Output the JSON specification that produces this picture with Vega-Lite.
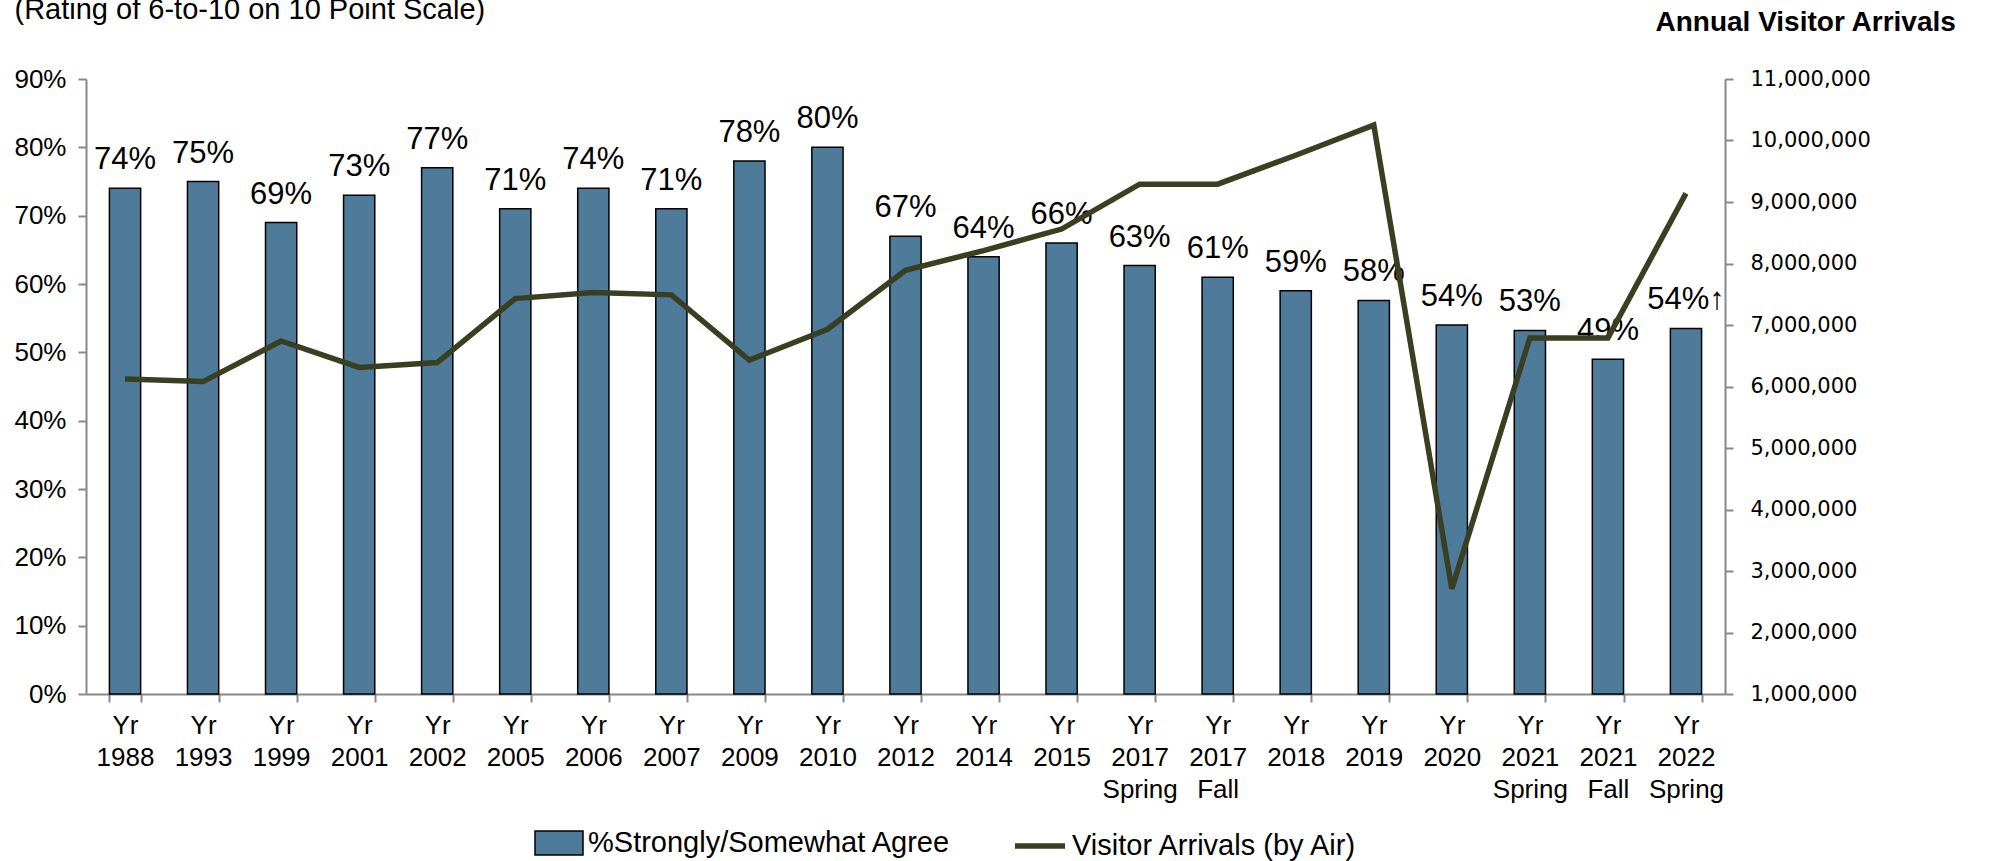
{
  "$schema": "https://vega.github.io/schema/vega-lite/v6.json",
  "width": 1639,
  "height": 615,
  "autosize": "none",
  "padding": {"left": 86, "top": 79, "right": 268, "bottom": 167},
  "background": "white",
  "config": {"view": {"stroke": null}, "font": "Liberation Sans"},
  "data": {
    "values": [
      {"cat": "Yr|1988", "pct": 0.74, "label": "74%", "arrivals": 6120000},
      {"cat": "Yr|1993", "pct": 0.75, "label": "75%", "arrivals": 6080000},
      {"cat": "Yr|1999", "pct": 0.69, "label": "69%", "arrivals": 6740000},
      {"cat": "Yr|2001", "pct": 0.73, "label": "73%", "arrivals": 6310000},
      {"cat": "Yr|2002", "pct": 0.77, "label": "77%", "arrivals": 6390000},
      {"cat": "Yr|2005", "pct": 0.71, "label": "71%", "arrivals": 7430000},
      {"cat": "Yr|2006", "pct": 0.74, "label": "74%", "arrivals": 7530000},
      {"cat": "Yr|2007", "pct": 0.71, "label": "71%", "arrivals": 7490000},
      {"cat": "Yr|2009", "pct": 0.78, "label": "78%", "arrivals": 6430000},
      {"cat": "Yr|2010", "pct": 0.80, "label": "80%", "arrivals": 6930000},
      {"cat": "Yr|2012", "pct": 0.67, "label": "67%", "arrivals": 7890000},
      {"cat": "Yr|2014", "pct": 0.64, "label": "64%", "arrivals": 8210000},
      {"cat": "Yr|2015", "pct": 0.66, "label": "66%", "arrivals": 8560000},
      {"cat": "Yr|2017|Spring", "pct": 0.627, "label": "63%", "arrivals": 9290000},
      {"cat": "Yr|2017|Fall", "pct": 0.61, "label": "61%", "arrivals": 9290000},
      {"cat": "Yr|2018", "pct": 0.59, "label": "59%", "arrivals": 9760000},
      {"cat": "Yr|2019", "pct": 0.576, "label": "58%", "arrivals": 10250000},
      {"cat": "Yr|2020", "pct": 0.54, "label": "54%", "arrivals": 2710000},
      {"cat": "Yr|2021|Spring", "pct": 0.532, "label": "53%", "arrivals": 6790000},
      {"cat": "Yr|2021|Fall", "pct": 0.49, "label": "49%", "arrivals": 6790000},
      {"cat": "Yr|2022|Spring", "pct": 0.535, "label": "54%↑", "arrivals": 9140000}
    ]
  },
  "encoding": {
    "x": {
      "field": "cat",
      "type": "nominal",
      "sort": null,
      "scale": {"paddingInner": 0.6, "paddingOuter": 0.3},
      "axis": {
        "title": null,
        "labelAngle": 0,
        "labelExpr": "split(datum.label, '|')",
        "labelFont": "Liberation Sans",
        "labelFontSize": 26,
        "labelColor": "black",
        "labelLineHeight": 32,
        "labelBaseline": "top",
        "labelPadding": 10,
        "tickBand": "extent",
        "tickSize": 8,
        "tickColor": "#888888",
        "tickWidth": 2,
        "domainColor": "#888888",
        "domainWidth": 2,
        "labelOverlap": false
      }
    }
  },
  "layer": [
    {
      "encoding": {
        "y": {
          "field": "pct",
          "type": "quantitative",
          "scale": {"domain": [0, 0.9], "nice": false},
          "axis": {
            "values": [0, 0.1, 0.2, 0.3, 0.4, 0.5, 0.6, 0.7, 0.8, 0.9],
            "format": ".0%",
            "grid": false,
            "labelFont": "Liberation Sans",
            "labelFontSize": 26,
            "labelColor": "black",
            "labelPadding": 12,
            "tickSize": 8,
            "tickColor": "#888888",
            "tickWidth": 2,
            "domainColor": "#888888",
            "domainWidth": 2,
            "title": "(Rating of 6-to-10 on 10 Point Scale)",
            "titleAngle": 0,
            "titleAlign": "left",
            "titleBaseline": "alphabetic",
            "titleX": -72,
            "titleY": -61,
            "titleFont": "Liberation Sans",
            "titleFontSize": 29,
            "titleFontWeight": "normal",
            "titleColor": "black"
          }
        }
      },
      "layer": [
        {
          "mark": {"type": "bar", "stroke": "black", "strokeWidth": 1.5},
          "encoding": {
            "fill": {
              "datum": "%Strongly/Somewhat Agree",
              "scale": {"range": ["#4e7b9a"]},
              "legend": {
                "orient": "none",
                "legendX": 448,
                "legendY": 739,
                "title": null,
                "padding": 0,
                "symbolType": "M-1,-0.5H1V0.5H-1Z",
                "symbolSize": 2304,
                "symbolStrokeColor": "black",
                "symbolStrokeWidth": 1.5,
                "symbolFillColor": "#4e7b9a",
                "labelFont": "Liberation Sans",
                "labelFontSize": 29,
                "labelLimit": 0,
                "labelColor": "black",
                "labelOffset": 4
              }
            }
          }
        },
        {
          "mark": {"type": "text", "baseline": "alphabetic", "dy": -19, "fontSize": 31, "font": "Liberation Sans", "color": "black"},
          "encoding": {"text": {"field": "label"}}
        }
      ]
    },
    {
      "mark": {"type": "line", "strokeWidth": 5.5, "strokeJoin": "miter"},
      "encoding": {
        "y": {
          "field": "arrivals",
          "type": "quantitative",
          "scale": {"domain": [1000000, 11000000], "nice": false, "zero": false},
          "axis": {
            "orient": "right",
            "values": [1000000, 2000000, 3000000, 4000000, 5000000, 6000000, 7000000, 8000000, 9000000, 10000000, 11000000],
            "format": ",.0f",
            "grid": false,
            "labelFont": "DejaVu Sans",
            "labelFontSize": 21,
            "labelColor": "black",
            "labelPadding": 17,
            "tickSize": 8,
            "tickColor": "#888888",
            "tickWidth": 2,
            "domainColor": "#888888",
            "domainWidth": 2,
            "title": "Annual Visitor Arrivals",
            "titleAngle": 0,
            "titleAlign": "left",
            "titleBaseline": "alphabetic",
            "titleX": -70,
            "titleY": -49,
            "titleFont": "Liberation Sans",
            "titleFontSize": 28,
            "titleFontWeight": "bold",
            "titleColor": "black"
          }
        },
        "stroke": {
          "datum": "Visitor Arrivals (by Air)",
          "scale": {"range": ["#3a3f22"]},
          "legend": {
            "orient": "none",
            "legendX": 926,
            "legendY": 739,
            "title": null,
            "padding": 0,
            "symbolType": "M-1,0H1",
            "symbolSize": 2500,
            "symbolStrokeWidth": 5.5,
            "labelFont": "Liberation Sans",
            "labelFontSize": 29,
            "labelLimit": 0,
            "labelColor": "black",
            "labelOffset": 4
          }
        }
      }
    }
  ],
  "resolve": {"scale": {"y": "independent"}}
}
